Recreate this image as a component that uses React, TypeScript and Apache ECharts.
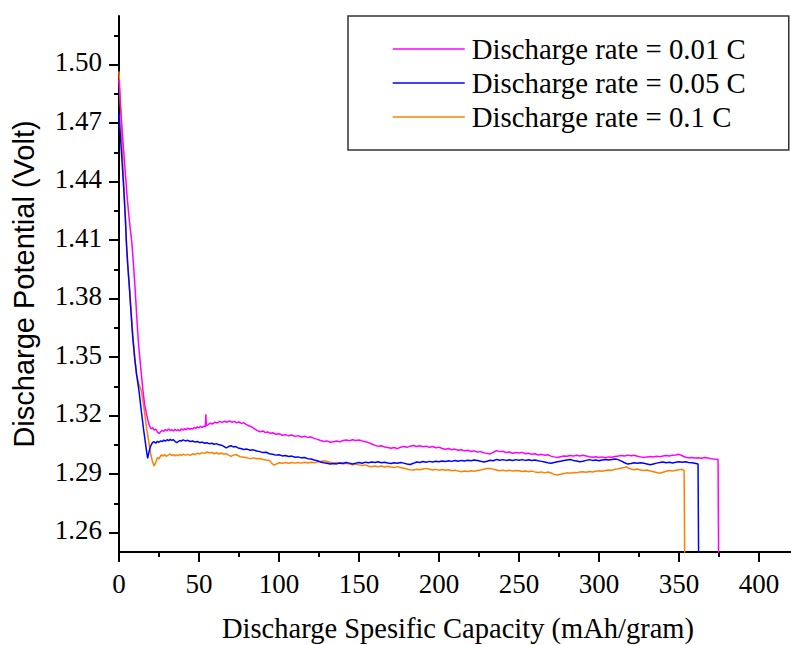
import React, { useEffect, useRef } from "react";
import * as echarts from "echarts";

// Discharge rate = 0.01 C  [capacity (mAh/g), potential (V)]
const rate001: [number, number][] = [
  [0, 1.4925], [1, 1.478], [2, 1.466], [3, 1.455], [4, 1.444], [5, 1.433], [6, 1.424], [7, 1.416],
  [8, 1.409], [9, 1.398], [10, 1.386], [11, 1.372], [12, 1.359], [13, 1.3496], [14, 1.341], [15, 1.3327],
  [16, 1.3259], [17, 1.3215], [18, 1.3178], [19, 1.3148], [20, 1.3132], [21, 1.3138], [22, 1.3125], [23, 1.3131],
  [24, 1.3116], [25, 1.3108], [26, 1.3117], [27, 1.3124], [28, 1.3119], [29, 1.3128], [30, 1.3122], [31, 1.3131],
  [32, 1.3124], [33, 1.3127], [34, 1.3121], [35, 1.313], [36, 1.3123], [37, 1.3128], [38, 1.3121], [39, 1.3131],
  [40, 1.3126], [41, 1.3133], [42, 1.3127], [43, 1.3136], [44, 1.3129], [45, 1.3134], [46, 1.3131], [47, 1.3139],
  [48, 1.3134], [49, 1.3142], [50, 1.3137], [51, 1.3145], [52, 1.3139], [53, 1.3146], [54, 1.3142], [54.3, 1.3206],
  [54.6, 1.3148], [55.5, 1.3152], [57, 1.3161], [58.5, 1.3157], [60, 1.3166], [61.5, 1.3162], [63, 1.317], [64.5, 1.3165],
  [66, 1.3171], [67.5, 1.3166], [69, 1.3172], [70.5, 1.3166], [72, 1.317], [73.5, 1.3163], [75, 1.3167], [76.5, 1.316],
  [78, 1.3163], [79.5, 1.3155], [81, 1.3148], [82.5, 1.3144], [84, 1.3136], [85.5, 1.3128], [87, 1.3121], [88.5, 1.3117],
  [90, 1.3121], [91.5, 1.3113], [93, 1.3116], [94.5, 1.3108], [96, 1.3112], [98, 1.3104], [100, 1.3107], [102, 1.3099],
  [104, 1.3102], [106, 1.3096], [108, 1.31], [110, 1.3093], [112, 1.3097], [114, 1.309], [116, 1.3094], [118, 1.3088],
  [120, 1.3091], [122, 1.3083], [124, 1.3078], [126, 1.3072], [128, 1.3067], [130, 1.307], [132, 1.3063], [134, 1.3066],
  [136, 1.3069], [138, 1.3065], [140, 1.3072], [142, 1.3075], [144, 1.3071], [146, 1.3076], [148, 1.3072], [150, 1.3075],
  [152, 1.307], [154, 1.3066], [156, 1.3061], [158, 1.3054], [160, 1.3047], [162, 1.3042], [164, 1.3045], [166, 1.3039],
  [168, 1.3036], [170, 1.3032], [172, 1.3036], [174, 1.303], [176, 1.3038], [178, 1.3041], [180, 1.3037], [182, 1.3043],
  [184, 1.3046], [186, 1.3041], [188, 1.3045], [190, 1.304], [192, 1.3043], [194, 1.3037], [196, 1.3041], [198, 1.3035],
  [200, 1.3038], [202, 1.3031], [204, 1.3027], [206, 1.3031], [208, 1.3025], [210, 1.3028], [212, 1.3022], [214, 1.3025],
  [216, 1.3019], [218, 1.3022], [220, 1.3016], [222, 1.3019], [224, 1.3013], [226, 1.3015], [228, 1.3009], [230, 1.3006],
  [232, 1.3003], [234, 1.3012], [236, 1.302], [238, 1.3015], [240, 1.3017], [242, 1.301], [244, 1.3013], [246, 1.3007],
  [248, 1.3011], [250, 1.3008], [252, 1.3011], [254, 1.3004], [256, 1.3007], [258, 1.3001], [260, 1.3004], [262, 1.2998],
  [264, 1.3001], [266, 1.2996], [268, 1.2999], [270, 1.2992], [272, 1.2988], [274, 1.2985], [276, 1.2989], [278, 1.2993],
  [280, 1.2991], [282, 1.2995], [284, 1.2992], [286, 1.2996], [288, 1.2993], [290, 1.2996], [292, 1.2993], [294, 1.2989],
  [296, 1.2986], [298, 1.2989], [300, 1.2985], [302, 1.2988], [304, 1.2984], [306, 1.2988], [308, 1.2986], [310, 1.299],
  [312, 1.2992], [314, 1.2995], [316, 1.2993], [318, 1.2997], [320, 1.2994], [322, 1.2996], [324, 1.2991], [326, 1.2988],
  [328, 1.2985], [330, 1.2988], [332, 1.299], [334, 1.2987], [336, 1.2991], [338, 1.2989], [340, 1.2992], [342, 1.2995],
  [344, 1.2993], [346, 1.2997], [348, 1.2998], [350, 1.3001], [352, 1.2994], [354, 1.2986], [356, 1.2983], [358, 1.2985],
  [360, 1.2982], [362, 1.2984], [364, 1.2981], [366, 1.2985], [368, 1.2982], [370, 1.2979], [372, 1.2977], [374.4, 1.2975],
  [374.8, 1.24],
];

// Discharge rate = 0.05 C
const rate005: [number, number][] = [
  [0, 1.475], [1, 1.462], [2, 1.449], [3, 1.436], [4, 1.421], [4.6, 1.4094], [5.5, 1.397], [6.5, 1.386],
  [7.5, 1.373], [8.5, 1.361], [9.8, 1.3496], [11, 1.341], [12.5, 1.3327], [14, 1.322], [15.5, 1.312], [17, 1.303],
  [17.9, 1.298], [18.8, 1.3015], [19.8, 1.3045], [21, 1.3062], [22, 1.3066], [23, 1.3058], [24, 1.3068], [25, 1.3063],
  [26, 1.307], [27, 1.3066], [28, 1.3074], [29, 1.3069], [30, 1.3076], [31, 1.3071], [32, 1.3078], [33, 1.3073],
  [34, 1.3076], [35, 1.3068], [36, 1.3061], [37, 1.3066], [38, 1.3072], [39, 1.3069], [40, 1.3075], [41.5, 1.307],
  [43, 1.3073], [44.5, 1.3067], [46, 1.307], [47.5, 1.3064], [49, 1.3067], [50.5, 1.3061], [52, 1.3064], [53.5, 1.3058],
  [55, 1.3061], [56.5, 1.3055], [58, 1.3058], [59.5, 1.3053], [61, 1.3056], [62.5, 1.305], [64, 1.3048], [65.5, 1.3042],
  [67, 1.3034], [68.5, 1.3041], [70, 1.3045], [71.5, 1.3039], [73, 1.3041], [74.5, 1.3034], [76, 1.3031], [78, 1.3026],
  [80, 1.3028], [82, 1.3022], [84, 1.3024], [86, 1.3018], [88, 1.3015], [90, 1.301], [92, 1.3012], [94, 1.3004],
  [96, 1.3001], [98, 1.2997], [100, 1.2999], [102, 1.2993], [104, 1.2995], [106, 1.299], [108, 1.2992], [110, 1.2986],
  [112, 1.2988], [114, 1.2983], [116, 1.2985], [118, 1.2979], [120, 1.2977], [122, 1.2972], [124, 1.2968], [126, 1.2962],
  [128, 1.2958], [130, 1.2955], [132, 1.2951], [134, 1.2954], [136, 1.2952], [138, 1.2957], [140, 1.2955], [142, 1.2959],
  [144, 1.2956], [146, 1.2952], [148, 1.2956], [150, 1.2959], [152, 1.2955], [154, 1.2961], [156, 1.2958], [158, 1.2962],
  [160, 1.2959], [162, 1.2963], [164, 1.2958], [166, 1.2961], [168, 1.2957], [170, 1.2954], [172, 1.2958], [174, 1.2955],
  [176, 1.2959], [178, 1.2956], [180, 1.2952], [182, 1.2949], [184, 1.2955], [186, 1.2962], [188, 1.2959], [190, 1.2964],
  [192, 1.2961], [194, 1.2965], [196, 1.2962], [198, 1.2966], [200, 1.2963], [202, 1.2967], [204, 1.2964], [206, 1.2968],
  [208, 1.2965], [210, 1.2969], [212, 1.2966], [214, 1.297], [216, 1.2967], [218, 1.2971], [220, 1.2968], [222, 1.2972],
  [224, 1.2969], [226, 1.2966], [228, 1.2962], [230, 1.2966], [232, 1.2971], [234, 1.2968], [236, 1.2975], [238, 1.2971],
  [240, 1.2974], [242, 1.297], [244, 1.2973], [246, 1.2969], [248, 1.2974], [250, 1.2971], [252, 1.2974], [254, 1.297],
  [256, 1.2973], [258, 1.2969], [260, 1.2972], [262, 1.2968], [264, 1.2965], [266, 1.2962], [268, 1.2958], [270, 1.2955],
  [272, 1.2959], [274, 1.2963], [276, 1.2966], [278, 1.2969], [280, 1.2972], [282, 1.2975], [284, 1.297], [286, 1.2967],
  [288, 1.2963], [290, 1.2966], [292, 1.297], [294, 1.2974], [296, 1.297], [298, 1.2972], [300, 1.2968], [302, 1.2972],
  [304, 1.2975], [306, 1.2972], [308, 1.2975], [310, 1.2977], [312, 1.2974], [314, 1.2966], [316, 1.2958], [318, 1.2951],
  [320, 1.2954], [322, 1.2958], [324, 1.2955], [326, 1.2958], [328, 1.2955], [330, 1.2952], [332, 1.2948], [334, 1.2952],
  [336, 1.2956], [338, 1.2959], [340, 1.2962], [342, 1.2958], [344, 1.2961], [346, 1.2957], [348, 1.296], [350, 1.2963],
  [352, 1.296], [354, 1.2963], [356, 1.2959], [358, 1.2958], [360, 1.2955], [361.9, 1.2951], [362.3, 1.24],
];

// Discharge rate = 0.1 C
const rate01: [number, number][] = [
  [0, 1.4966], [1, 1.478], [2, 1.458], [3, 1.438], [4, 1.42], [4.8, 1.405], [5.8, 1.393], [7, 1.38],
  [8.5, 1.363], [9.8, 1.3496], [11, 1.341], [12.5, 1.336], [14, 1.3327], [15.5, 1.3245], [17.1, 1.3143], [18.5, 1.307],
  [20, 1.2995], [21, 1.2962], [22, 1.2941], [23, 1.2962], [24, 1.2985], [25, 1.2978], [26.5, 1.2999], [27.5, 1.2992],
  [28.5, 1.3], [29.5, 1.2991], [31, 1.2998], [32, 1.3003], [33, 1.2995], [34, 1.3], [35, 1.2993], [36, 1.2998],
  [37, 1.2994], [38, 1.3001], [39, 1.2996], [40, 1.3002], [41.5, 1.2997], [43, 1.3001], [44.5, 1.2996], [46, 1.3004],
  [47.5, 1.3], [49, 1.3007], [50.5, 1.3003], [52, 1.301], [53.5, 1.3006], [55, 1.3013], [56.5, 1.3008], [58, 1.3011],
  [59.5, 1.3004], [61, 1.3009], [62.5, 1.3003], [64, 1.3008], [65.5, 1.3001], [67, 1.3004], [68.5, 1.2997], [70, 1.2991],
  [71.5, 1.2997], [73, 1.3], [74.5, 1.2994], [76, 1.2989], [78, 1.2986], [80, 1.2983], [82, 1.2979], [84, 1.2983],
  [86, 1.2978], [88, 1.298], [90, 1.2975], [92, 1.2972], [94, 1.297], [95.5, 1.2955], [97, 1.2946], [98.5, 1.2952],
  [100, 1.2958], [102, 1.2955], [104, 1.2959], [106, 1.2955], [108, 1.2959], [110, 1.2956], [112, 1.2959], [114, 1.2956],
  [116, 1.296], [118, 1.2957], [120, 1.2961], [122, 1.2958], [124, 1.2962], [126, 1.2965], [128, 1.2968], [130, 1.2964],
  [132, 1.296], [134, 1.2956], [136, 1.2959], [138, 1.2955], [140, 1.2952], [142, 1.2955], [144, 1.2951], [146, 1.2948],
  [148, 1.2951], [150, 1.2947], [152, 1.2944], [154, 1.2947], [156, 1.294], [158, 1.2937], [160, 1.2941], [162, 1.2937],
  [164, 1.2941], [166, 1.2936], [168, 1.294], [170, 1.2936], [172, 1.2933], [174, 1.2938], [176, 1.2934], [178, 1.293],
  [180, 1.2926], [182, 1.2922], [184, 1.2921], [186, 1.2925], [188, 1.2922], [190, 1.2926], [192, 1.2929], [194, 1.2925],
  [196, 1.2921], [198, 1.2924], [200, 1.292], [202, 1.2923], [204, 1.2919], [206, 1.2922], [208, 1.2917], [210, 1.292],
  [212, 1.2915], [214, 1.2912], [216, 1.2916], [218, 1.2913], [220, 1.2917], [222, 1.2914], [224, 1.2918], [226, 1.2921],
  [228, 1.2925], [230, 1.2928], [232, 1.2929], [234, 1.2924], [236, 1.2921], [238, 1.2917], [240, 1.292], [242, 1.2916],
  [244, 1.2919], [246, 1.2915], [248, 1.2918], [250, 1.2917], [252, 1.2913], [254, 1.2916], [256, 1.2912], [258, 1.2915],
  [260, 1.2911], [262, 1.2908], [264, 1.2911], [266, 1.2906], [268, 1.291], [270, 1.2905], [272, 1.2898], [274, 1.2895],
  [276, 1.2899], [278, 1.2903], [280, 1.2906], [282, 1.2904], [284, 1.2908], [286, 1.2906], [288, 1.291], [290, 1.2912],
  [292, 1.2909], [294, 1.2913], [296, 1.291], [298, 1.2914], [300, 1.2917], [302, 1.2914], [304, 1.2918], [306, 1.2921],
  [308, 1.2919], [310, 1.2924], [312, 1.2927], [314, 1.2931], [316, 1.2934], [317, 1.2938], [318, 1.2932], [320, 1.2926],
  [322, 1.2922], [324, 1.2926], [326, 1.2921], [328, 1.2918], [330, 1.2921], [332, 1.2916], [334, 1.2912], [336, 1.2908],
  [338, 1.2904], [340, 1.2909], [342, 1.2914], [344, 1.2918], [346, 1.2915], [348, 1.2919], [350, 1.2922], [352, 1.2924],
  [353.2, 1.2918], [353.6, 1.24],
];

const seriesNames = ["Discharge rate = 0.01 C", "Discharge rate = 0.05 C", "Discharge rate = 0.1 C"];
const seriesColors = ["#FF00FF", "#0000FF", "#FF8000"];

const xMajorTicks = [0, 50, 100, 150, 200, 250, 300, 350, 400];
const xMinorTicks = [25, 75, 125, 175, 225, 275, 325, 375];
const yMajorTicks = [1.26, 1.29, 1.32, 1.35, 1.38, 1.41, 1.44, 1.47, 1.5];
const yMinorTicks = [1.275, 1.305, 1.335, 1.365, 1.395, 1.425, 1.455, 1.485, 1.515];

const X_MIN = 0;
const X_MAX = 420;
const Y_MIN = 1.25;
const Y_MAX = 1.525;

const SERIF = "Liberation Serif";
const SANS = "Liberation Sans";

const tickFont = { fontFamily: SERIF, fontSize: 27, color: "#000", lineHeight: 30 };

export default function App() {
  const ref = useRef<HTMLDivElement>(null);

  useEffect(() => {
    document.body.style.margin = "0";
    if (!ref.current) return;
    const chart = echarts.init(ref.current, null, { renderer: "svg" });
    const gridPos = { left: 119, right: 0, top: 16, bottom: 93, containLabel: false, outerBoundsMode: "none" };
    const tickLine = { color: "#000", width: 2 };

    chart.setOption({
      animation: false,
      backgroundColor: "#fff",
      textStyle: { fontFamily: SERIF },
      grid: [gridPos, { ...gridPos }],
      legend: {
        data: seriesNames,
        orient: "vertical",
        left: 348,
        top: 16,
        padding: [18, 43, 18, 44],
        itemGap: 4,
        itemWidth: 72,
        itemHeight: 14,
        borderColor: "#333",
        borderWidth: 1.5,
        backgroundColor: "#fff",
        itemStyle: { opacity: 0, borderWidth: 0 },
        lineStyle: { width: 1.5 },
        textStyle: {
          fontFamily: SERIF,
          fontSize: 28.8,
          color: "#000",
          lineHeight: 30,
          padding: [0, 0, 0, 2],
        },
      },
      xAxis: [
        {
          type: "value",
          gridIndex: 0,
          min: X_MIN,
          max: X_MAX,
          splitLine: { show: false },
          axisLine: { lineStyle: tickLine },
          axisTick: { customValues: xMajorTicks, length: 10, lineStyle: tickLine },
          axisLabel: {
            customValues: xMajorTicks,
            margin: 17,
            ...tickFont,
            formatter: (v: number) => `{t|${v}}`,
            rich: { t: tickFont },
          },
          name: "Discharge Spesific Capacity (mAh/gram)",
          nameLocation: "middle",
          nameGap: 64,
          nameMoveOverlap: false,
          nameTextStyle: {
            fontFamily: SERIF,
            fontSize: 28.5,
            color: "#000",
            lineHeight: 24,
            padding: [0, 0, 0, 6],
          },
        },
        {
          type: "value",
          gridIndex: 1,
          min: X_MIN,
          max: X_MAX,
          splitLine: { show: false },
          axisLine: { show: false },
          axisTick: { customValues: xMinorTicks, length: 5, lineStyle: tickLine },
          axisLabel: { show: false },
        },
      ],
      yAxis: [
        {
          type: "value",
          gridIndex: 0,
          min: Y_MIN,
          max: Y_MAX,
          splitLine: { show: false },
          axisLine: { lineStyle: tickLine },
          axisTick: { customValues: yMajorTicks, length: 10, lineStyle: tickLine },
          axisLabel: {
            customValues: yMajorTicks,
            margin: 17,
            ...tickFont,
            padding: [0, 0, 5, 0],
            formatter: (v: number) => `{t|${v.toFixed(2)}}`,
            rich: { t: tickFont },
          },
          name: "Discharge Potential (Volt)",
          nameLocation: "middle",
          nameRotate: 90,
          nameGap: 80,
          nameMoveOverlap: false,
          nameTextStyle: {
            fontFamily: SANS,
            fontSize: 29,
            color: "#000",
            lineHeight: 30,
          },
        },
        {
          type: "value",
          gridIndex: 1,
          min: Y_MIN,
          max: Y_MAX,
          splitLine: { show: false },
          axisLine: { show: false },
          axisTick: { customValues: yMinorTicks, length: 5, lineStyle: tickLine },
          axisLabel: { show: false },
        },
      ],
      series: [
        ...[rate001, rate005, rate01].map((d, i) => ({
          type: "line",
          name: seriesNames[i],
          data: d,
          xAxisIndex: 0,
          yAxisIndex: 0,
          symbol: "none",
          showSymbol: false,
          clip: true,
          color: seriesColors[i],
          lineStyle: { color: seriesColors[i], width: 1.5 },
          z: 3 - i,
        })),
        {
          type: "line",
          name: "_minor",
          data: [],
          xAxisIndex: 1,
          yAxisIndex: 1,
          symbol: "none",
        },
      ],
    });

    return () => chart.dispose();
  }, []);

  return <div ref={ref} style={{ width: 791, height: 645 }} />;
}
